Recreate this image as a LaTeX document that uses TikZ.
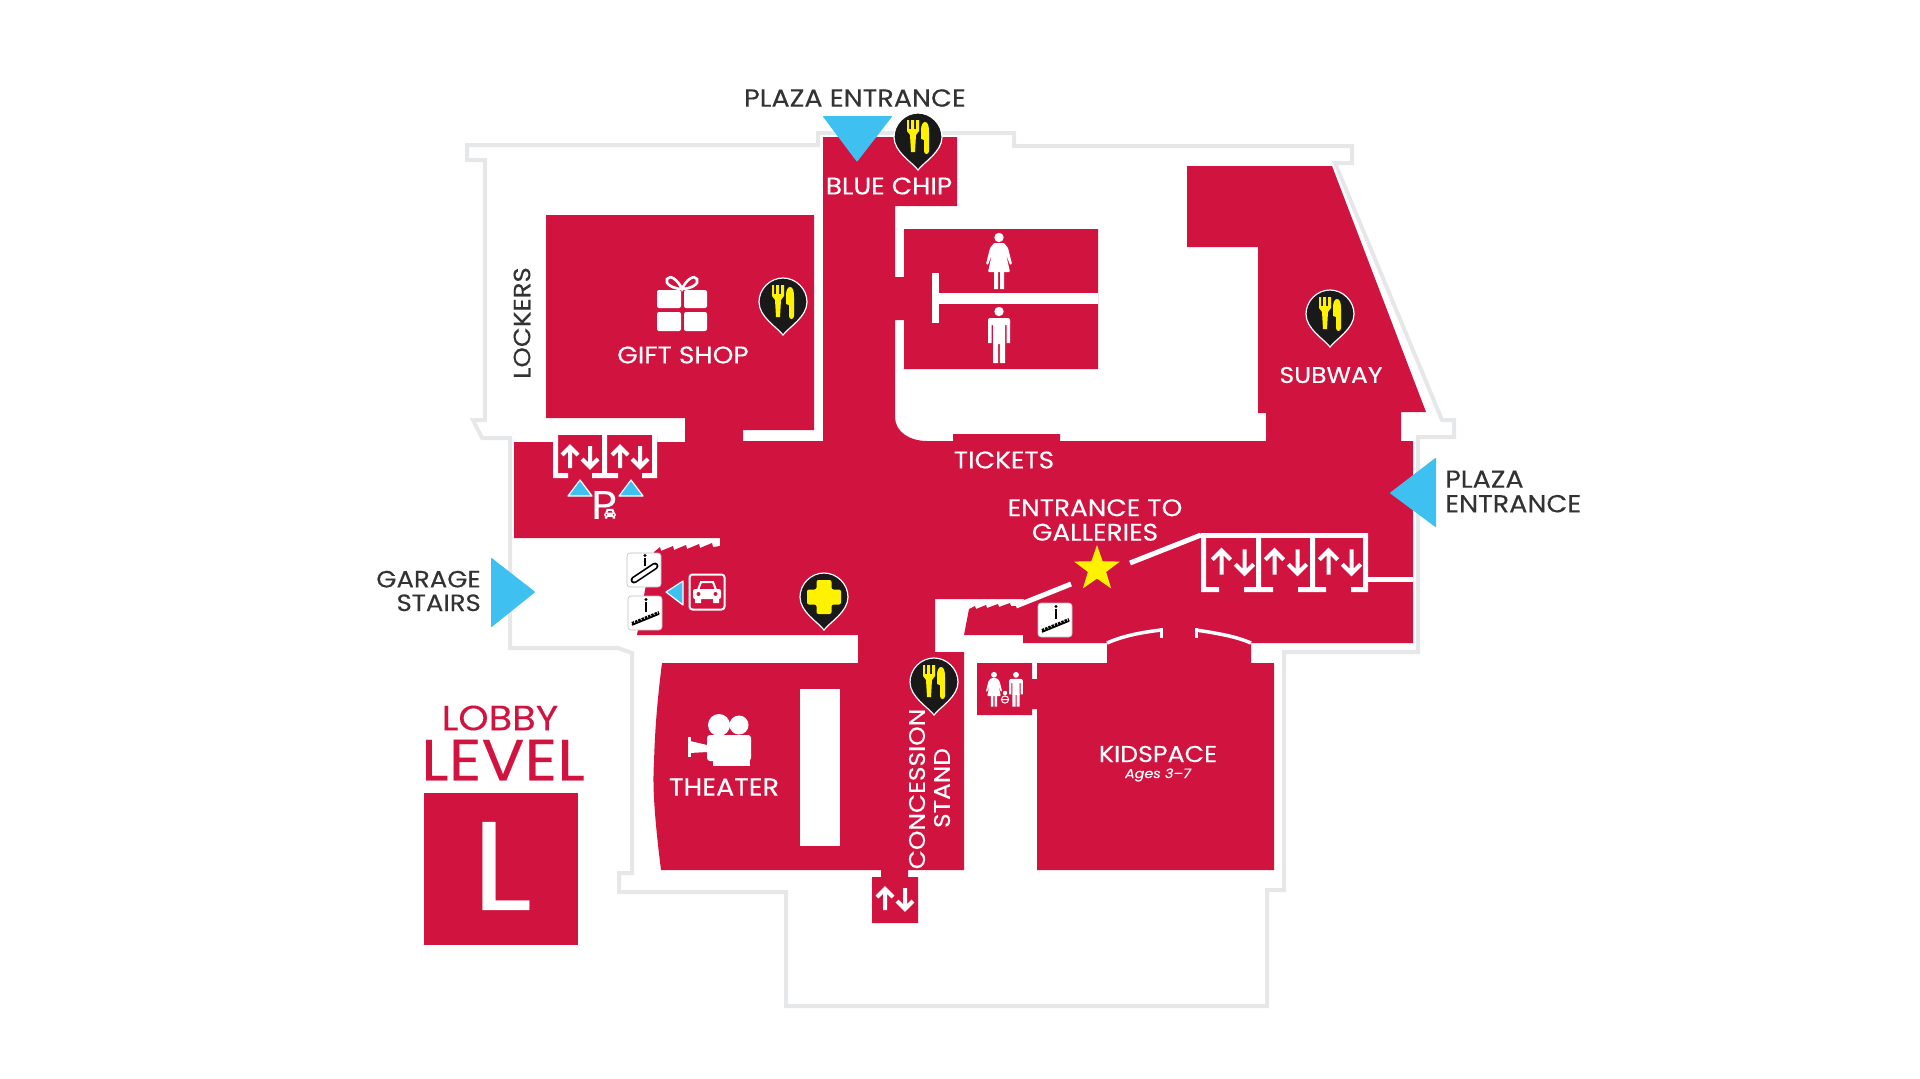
\documentclass[tikz,border=0pt]{standalone}
\usepackage{fontspec}
\setmainfont{Poppins}[FakeBold=0.2,FakeStretch=1.1]
\usepackage{tikz}
\usetikzlibrary{shapes.geometric}
\definecolor{crimsonroom}{HTML}{D1143F}
\definecolor{entryblue}{HTML}{3EC1F0}
\definecolor{wallgray}{HTML}{E6E7E8}
\definecolor{signyellow}{HTML}{FFF200}
\definecolor{darklabel}{HTML}{333333}
\newcommand{\labelfont}[1]{\fontsize{#1}{#1}\selectfont}
\tikzset{
  wall/.style={draw=wallgray,line width=4pt,line join=miter},
  room/.style={fill=crimsonroom},
  cutline/.style={draw=white,line width=5pt},
  arcline/.style={draw=white,line width=3.5pt},
  entry/.style={fill=entryblue,draw=entryblue,line width=1pt,line join=round},
  tinyentry/.style={fill=entryblue,draw=white,line width=1.2pt,line join=round},
  whitelabel/.style={text=white,inner sep=0,align=center,font=\labelfont{24}},
  darktext/.style={text=darklabel,inner sep=0,font=\labelfont{23.6}},
  lift/.style={draw=white,line width=4pt,line join=miter},
  stepsign/.style={fill=white,draw=black!25,line width=.6pt,rounded corners=3pt},
  liftpair/.pic={
    \draw[lift] (-10,11) -- (-10,-10) (-18,-2) -- (-10,-10) -- (-2,-2);
    \draw[lift] (10,-11) -- (10,10) (2,2) -- (10,10) -- (18,2);
  },
  mappin/.pic={
    \draw[fill=black!90,draw=white,line width=1.2pt] (0,33) .. controls (-6,25) and (-24,15) .. (-24,0)
      .. controls (-24,-13) and (-13,-24) .. (0,-24) .. controls (13,-24) and (24,-13) .. (24,0)
      .. controls (24,15) and (6,25) .. (0,33) -- cycle;
  },
  foodpin/.pic={
    \pic {mappin};
    \fill[signyellow] (-11,-17) -- (-9,-17) -- (-9,-8) -- (-7,-8) -- (-7,-17) -- (-4,-17) -- (-4,-8) -- (-2,-8)
      -- (-2,-17) -- (1,-17) -- (1,-6) -- (-2,-2) -- (-3,15) -- (-7,15) -- (-8,-2) -- (-11,-6) -- cycle;
    \fill[signyellow] (3,-7) .. controls (3,-12) and (5,-15) .. (7,-15) .. controls (10,-15) and (11,-11) .. (11,-5)
      -- (11,14) .. controls (11,18) and (6,18) .. (6,14) -- (6,3) -- (3,2) -- cycle;
  },
  crosspin/.pic={
    \pic {mappin};
    \fill[signyellow,rounded corners=2pt] (-7.5,-17) -- (7.5,-17) -- (7.5,-7.5) -- (17,-7.5) -- (17,7.5) -- (7.5,7.5)
      -- (7.5,17) -- (-7.5,17) -- (-7.5,7.5) -- (-17,7.5) -- (-17,-7.5) -- (-7.5,-7.5) -- cycle;
  },
  womanicon/.pic={
    \fill[white] (0,4.5) circle (4.7);
    \fill[white,rounded corners=1pt] (-5,10) -- (5,10) -- (9,15) -- (13,31) -- (11,32) -- (7,21) -- (11,39) -- (-11,39)
      -- (-7,21) -- (-11,32) -- (-13,31) -- (-9,15) -- cycle;
    \fill[white] (-5,39) rectangle (-1,56) (1,39) rectangle (5,56);
  },
  manicon/.pic={
    \fill[white] (0,4.5) circle (4.7);
    \fill[white,rounded corners=2pt] (-11,11) rectangle (11,18);
    \fill[white] (-6,12) rectangle (6,37) (-11,14) rectangle (-7.5,36) (7.5,14) rectangle (11,36);
    \fill[white] (-6,36) rectangle (-.8,56) (.8,36) rectangle (6,56);
  },
  babyicon/.pic={
    \fill[white] (0,0) circle (2.2);
    \draw[white,line width=1pt] (0,6.5) circle (3.6) (-3.6,6.5) -- (3.6,6.5);
  },
  caricon/.pic={
    \draw[white,line width=2pt] (-9,-2) -- (-6,-10) -- (6,-10) -- (9,-2);
    \fill[white,rounded corners=2pt] (-14,-3) rectangle (14,7);
    \fill[white] (-12,6) rectangle (-6,11) (6,6) rectangle (12,11);
    \fill[crimsonroom] (-8.5,2) circle (2) (8.5,2) circle (2);
  },
  escalatoricon/.pic={
    \draw[stepsign] (-17,-17) rectangle (17,17);
    \draw[black,line width=7pt,line cap=round] (-10,10) -- (11,-4);
    \draw[white,line width=3.6pt,line cap=round] (-10,10) -- (11,-4);
    \fill[black] (1,-14.5) circle (1.6);
    \draw[black,line width=2.6pt] (1,-12) -- (1,-4);
  },
  stairicon/.pic={
    \draw[stepsign] (-17,-17) rectangle (17,17);
    \draw[black,line width=1.6pt] (-13,12) -- (14,1);
    \draw[black,line width=3pt,dash pattern=on 2.5pt off 1pt] (-13,10.5) -- (14,-.5);
    \fill[black] (1,-13.5) circle (1.6);
    \draw[black,line width=2.6pt] (1,-11) -- (1,-1);
  },
}
\begin{document}
\begin{tikzpicture}[x=1pt,y=-1pt]
\useasboundingbox (0,0) rectangle (1920,1079);

% outer wall
\draw[wall] (818,145) -- (818,133) -- (1014,133) -- (1014,146) -- (1352,146) -- (1352,163) -- (1335,163) -- (1442,420)
  -- (1454,420) -- (1454,437) -- (1418,437) -- (1418,652) -- (1284,652) -- (1284,890) -- (1267,890) -- (1267,1006)
  -- (786,1006) -- (786,892) -- (619,892) -- (619,873) -- (632,873) -- (632,653) -- (618,648) -- (510,648)
  -- (510,438) -- (482,438) -- (473,420) -- (485,420) -- (485,160) -- (467,160) -- (467,145) -- cycle;

% main floor
\fill[room] (823,137) -- (957,137) -- (957,206) -- (895,206) -- (895,277) -- (904,277) -- (904,229) -- (1098,229)
  -- (1098,369) -- (904,369) -- (904,320) -- (895,320) -- (895,417) .. controls (895,432) and (910,441) .. (927,441)
  -- (953,441) -- (953,434) -- (1060,434) -- (1060,441) -- (1266,441) -- (1266,413) -- (1258,413) -- (1258,247)
  -- (1187,247) -- (1187,166) -- (1332,166) -- (1426,412) -- (1401,412) -- (1401,441) -- (1413,441) -- (1413,643)
  -- (1023,643) -- (1023,635) -- (964,635) -- (969,609) -- (975,606) -- (976,609) -- (986,605) -- (987,608) -- (998,604)
  -- (999,607) -- (1010,603) -- (1011,606) -- (1016,606) -- (1025,599) -- (935,599) -- (935,652) -- (964,652)
  -- (964,870) -- (908,870) -- (908,877) -- (918,877) -- (918,923) -- (872,923) -- (872,877) -- (881,877) -- (881,870)
  -- (661,870) .. controls (656,830) and (652,790) .. (654,763) .. controls (655,725) and (658,695) .. (662,663)
  -- (858,663) -- (858,635) -- (637,635) -- (645,590) -- (654,552) -- (660,547) -- (661,551) -- (673,546) -- (674,550)
  -- (686,545) -- (687,549) -- (699,544) -- (700,548) -- (712,543) -- (713,547) -- (720,546) -- (720,538) -- (514,538)
  -- (514,442) -- (553,442) -- (553,435) -- (657,435) -- (657,442) -- (685,442) -- (685,418) -- (546,418) -- (546,215)
  -- (814,215) -- (814,430) -- (743,430) -- (743,441) -- (823,441) -- cycle;

% kidspace and family room
\fill[room] (1037,870) -- (1274,870) -- (1274,663) -- (1251,663) -- (1251,643) -- (1107,643) -- (1107,663) -- (1037,663)
  -- (1037,679) -- (1032,679) -- (1032,663) -- (977,663) -- (977,715) -- (1032,715) -- (1032,709) -- (1037,709) -- cycle;
\fill[white] (800,689) rectangle (840,846);

% restroom divider
\fill[white] (932,273) rectangle (939,323);
\fill[white] (939,293) rectangle (1098,304);

% gallery entrance lines
\draw[cutline] (1016,606) -- (1071,584);
\draw[cutline] (1130,563) -- (1201,535);
\draw[arcline] (1107,643) .. controls (1125,635) and (1145,632) .. (1161,630);
\draw[arcline] (1196,630) .. controls (1215,633) and (1235,636) .. (1251,643);
\fill[white] (1160,628) rectangle (1163,638);
\fill[white] (1195,628) rectangle (1198,638);

% lift brackets, left
\fill[white] (553,435) rectangle (558,478) (553,473) rectangle (568,478);
\fill[white] (602,435) rectangle (607,478) (592,473) rectangle (618,478);
\fill[white] (652,435) rectangle (657,478) (642,473) rectangle (657,478);
% lift brackets, right
\fill[white] (1201,533) rectangle (1368,538);
\fill[white] (1201,533) rectangle (1206,592) (1201,587) rectangle (1219,592);
\fill[white] (1256,533) rectangle (1261,592) (1244,587) rectangle (1273,592);
\fill[white] (1310,533) rectangle (1315,592) (1298,587) rectangle (1326,592);
\fill[white] (1363,533) rectangle (1368,592) (1351,587) rectangle (1368,592);
\fill[white] (1368,577) rectangle (1413,582);

\pic (lift1) at (580,457) {liftpair};
\pic (lift2) at (630,457) {liftpair};
\pic[scale=1.15] (lift3) at (1233,562) {liftpair};
\pic[scale=1.15] (lift4) at (1286,562) {liftpair};
\pic[scale=1.15] (lift5) at (1340,562) {liftpair};
\pic (lift6) at (895,899) {liftpair};

% entrances
\draw[entry] (823.5,116.5) -- (891.5,116.5) -- (857,161) -- cycle;
\draw[entry] (1390.5,493) -- (1435.5,458.5) -- (1435.5,526.5) -- cycle;
\draw[entry] (491.5,558.5) -- (534.5,592) -- (491.5,626.5) -- cycle;
\draw[tinyentry] (568,496) -- (592,496) -- (580,480) -- cycle;
\draw[tinyentry] (619,496) -- (643,496) -- (631,480) -- cycle;
\draw[tinyentry] (666,592) -- (683,581) -- (683,605) -- cycle;

% pins
\pic (pin1) at (918,137) {foodpin};
\pic (pin2) at (783,302) {foodpin};
\pic (pin3) at (1330,314) {foodpin};
\pic (pin4) at (934,682) {foodpin};
\pic (pin5) at (824,597) {crosspin};
\node[star,star points=5,star point ratio=2.5,fill=signyellow,minimum size=48pt,inner sep=0] (star1) at (1097,569) {};

% stair signs
\pic (sign1) at (644,570) {escalatoricon};
\pic (sign2) at (645,613) {stairicon};
\pic (sign3) at (1055,620) {stairicon};

% car signs
\draw[white,line width=2pt,rounded corners=3pt] (689.5,574.5) rectangle (724.5,609.5);
\pic (car1) at (707,592) {caricon};
\pic[scale=.42] (car2) at (610,514) {caricon};

% gift icon
\fill[white,rounded corners=2pt] (657,290) rectangle (681,308) (684,290) rectangle (707,308);
\fill[white,rounded corners=2pt] (657,312) rectangle (681,331) (684,312) rectangle (707,331);
\draw[white,line width=2.6pt] (682,289) .. controls (674,289) and (664,284) .. (667,279) .. controls (670,274) and (678,280) .. (682,289)
  .. controls (686,280) and (694,274) .. (697,279) .. controls (700,284) and (690,289) .. (682,289);

% camera icon
\fill[white] (719,725) circle (11) (739,725) circle (9.5);
\fill[white,rounded corners=3pt] (707,735) rectangle (751,761);
\fill[white] (713,760) rectangle (750,766);
\fill[white] (688,737) rectangle (691,757);
\fill[white] (690,741) -- (707,745) -- (707,752) -- (690,753) -- cycle;

% people
\pic (woman1) at (999,233) {womanicon};
\pic (man1) at (999,307) {manicon};
\pic[scale=.62] (woman2) at (994,672) {womanicon};
\pic[scale=.62] (man2) at (1016,672) {manicon};
\pic (baby1) at (1005,693) {babyicon};

% labels
\node[darktext,font=\labelfont{24.6}] (plazatop) at (855,98) {PLAZA ENTRANCE};
\node[whitelabel] (bluechip) at (889,186) {BLUE CHIP};
\node[whitelabel] (giftshop) at (683,355) {GIFT SHOP};
\node[darktext,rotate=90] (lockers) at (522,323) {LOCKERS};
\node[whitelabel] (tickets) at (1004,460) {TICKETS};
\node[whitelabel] (galleries) at (1095,520) {\baselineskip=25pt ENTRANCE TO\\[.5pt]GALLERIES};
\node[whitelabel,font=\labelfont{22.8}] (subway) at (1331,375) {SUBWAY};
\node[darktext,font=\labelfont{24.6},anchor=west,align=left] (plazaright) at (1445,491.5) {PLAZA\\ENTRANCE};
\node[darktext,anchor=east,align=right] (garage) at (481,591) {GARAGE\\STAIRS};
\node[whitelabel,font=\labelfont{40}] (parking) at (604,505) {P};
\node[whitelabel,font=\labelfont{24.5}] (theater) at (724,787) {THEATER};
\node[whitelabel,font=\labelfont{22.6},rotate=90] (concession) at (917,789) {CONCESSION};
\node[whitelabel,font=\labelfont{22.6},rotate=90] (stand) at (942,788) {STAND};
\node[whitelabel,font=\labelfont{23}] (kidspace) at (1158,754) {KIDSPACE};
\node[whitelabel,font=\labelfont{13}\itshape] (ages) at (1158,775) {Ages 3--7};

% level key
\node[text=crimsonroom,inner sep=0,font=\labelfont{35}] (lobby) at (500,718) {LOBBY};
\node[text=crimsonroom,inner sep=0,font=\labelfont{58}] (level) at (503,760) {LEVEL};
\fill[room] (424,793) rectangle (578,945);
\node[text=white,inner sep=0,font=\labelfont{126}] (levelkey) at (502,866) {L};
\end{tikzpicture}
\end{document}
